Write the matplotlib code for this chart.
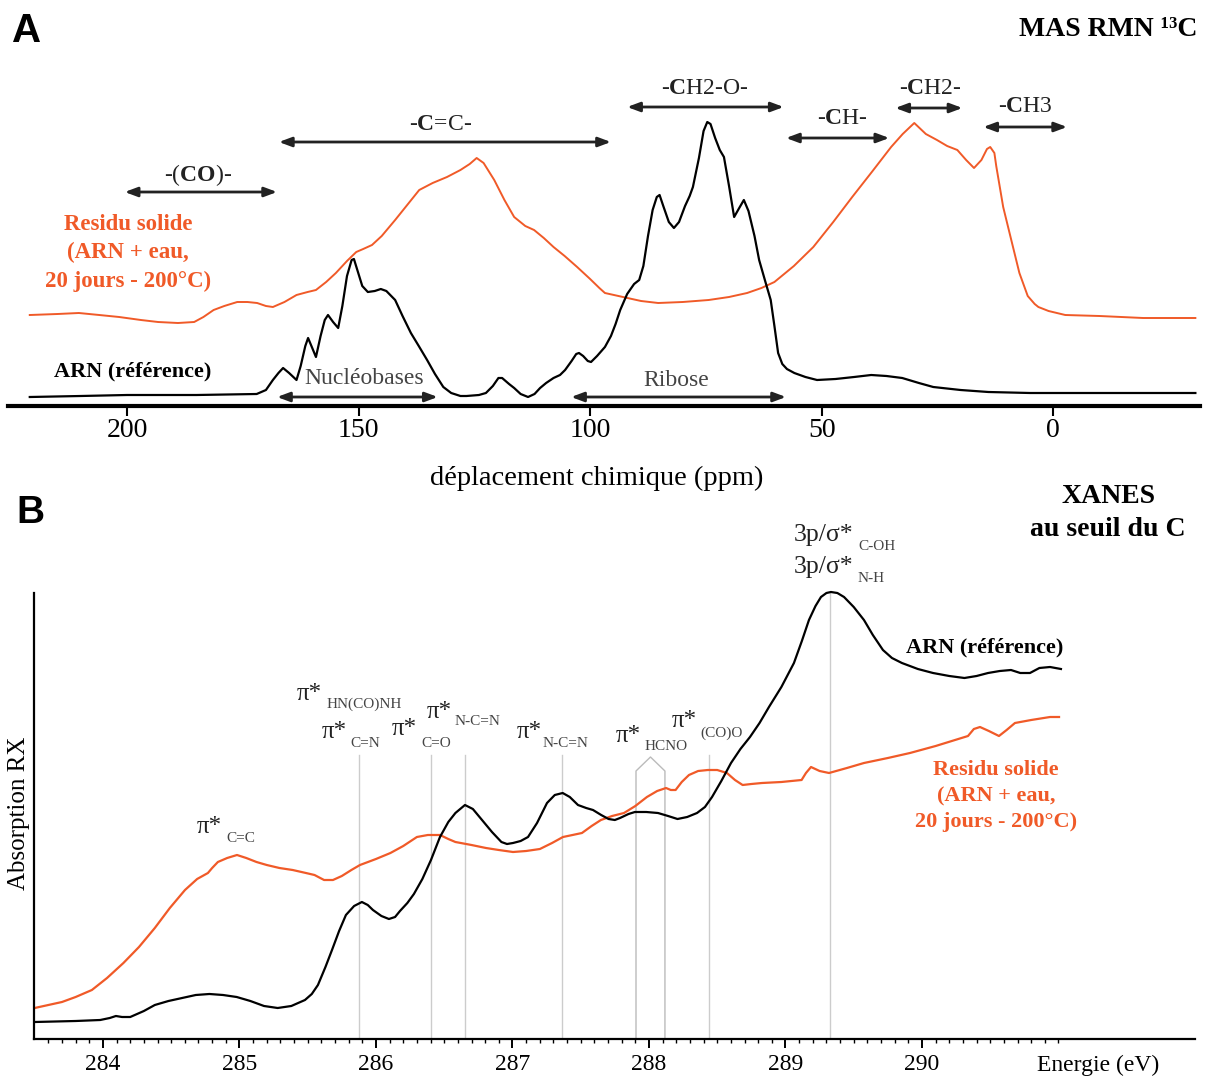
import matplotlib
matplotlib.use("Agg")
import matplotlib.pyplot as plt
from matplotlib.ticker import FixedLocator, NullLocator

plt.rcParams['font.family'] = ['Liberation Serif', 'DejaVu Serif']
plt.rcParams['mathtext.fontset'] = 'custom'
plt.rcParams['mathtext.rm'] = 'Liberation Serif'
plt.rcParams['mathtext.bf'] = 'Liberation Serif:bold'

ORANGE = '#f05a28'

# --- panel A : 13C MAS NMR -------------------------------------------------
ppm_arn = [221, 210, 200, 185, 172, 170, 168.5, 167.3, 166.3, 165,
           163.4, 162.5, 161.5, 160.9, 160, 159.2, 158.2, 157.3, 156.6, 155.5,
           154.4, 153.5, 152.5, 151.5, 151.0, 150.2, 149.2, 148.0, 146.5, 145.2,
           144.0, 142.1, 140.5, 138.7, 137, 135.2, 133.5, 131.7, 130, 128,
           126.7, 124, 122.5, 121, 119.8, 119.0, 117.5, 116.4, 115, 113.4,
           112, 110.8, 109.5, 107.9, 106.5, 105.4, 104, 103, 102.4, 101.5,
           100.5, 99.8, 98.5, 96.8, 95.5, 94.5, 93.5, 92, 90.5, 89.4,
           88.5, 87.5, 86.5, 85.6, 85.0, 84.2, 83.0, 81.9, 80.8, 79.5,
           78.5, 77.8, 76.5, 75.5, 74.7, 74.0, 73.0, 72.0, 71.1, 70,
           68.9, 67.8, 66.8, 65.8, 64.5, 63.5, 62.2, 61.0, 60.2, 59.4,
           58.5, 57.5, 55.9, 53.5, 51, 47, 43, 39.3, 36, 32.6,
           29, 25.9, 20, 14, 5, -2.6, -15, -30.7]
int_arn = [9, 10, 11, 11, 12, 16, 26, 33, 38, 33,
           26, 40, 60, 68, 58, 49, 70, 86, 91, 84,
           78, 100, 130, 146, 147, 135, 120, 114, 115, 117,
           115, 106, 90, 73, 60, 46, 32, 19, 13, 10,
           10, 11, 13, 20, 28, 28, 22, 18, 12, 9,
           12, 18, 23, 28, 31, 36, 45, 52, 53, 50,
           45, 44, 50, 59, 70, 82, 96, 112, 122, 126,
           140, 170, 196, 209, 211, 200, 184, 178, 184, 200,
           210, 219, 248, 275, 284, 282, 268, 256, 249, 220,
           189, 198, 206, 195, 170, 146, 125, 106, 80, 53,
           42, 37, 33, 29, 26, 27, 29, 31, 30, 28,
           23, 19, 16, 14, 13, 13, 13, 13]

ppm_res = [221, 215, 210.4, 206, 201.7, 197, 193.3, 189, 185.5, 183.5,
           181.3, 179, 176.2, 174, 171.9, 170, 168.5, 166, 163.4, 161,
           159.2, 157, 154.9, 152.5, 150.5, 149, 147.1, 145, 142.1, 139.5,
           136.9, 134, 130.9, 128, 126, 124.5, 123, 120.7, 118.5, 116.4,
           114, 112.1, 110, 107.9, 105.5, 102.8, 100, 98, 96.8, 92.9,
           89, 85.3, 80, 74.4, 70, 66.1, 63, 60.2, 56, 51.8,
           47.5, 43.4, 39, 35.0, 32.5, 30.0, 27.5, 25.1, 22.9, 20.7,
           18.8, 17.1, 15.5, 14.3, 13.6, 12.7, 12.3, 10.8, 9, 7.3,
           5.5, 4, 3.2, 1, -2.6, -10, -19.4, -30.7]
int_res = [91, 92, 93, 91, 89, 86, 84, 83, 84, 89,
           96, 100, 104, 104, 103, 100, 99, 104, 111, 114,
           116, 124, 133, 145, 154, 157, 161, 170, 186, 201,
           216, 223, 229, 236, 242, 248, 243, 226, 206, 189,
           180, 176, 168, 159, 150, 139, 127, 118, 113, 109,
           105, 103, 104, 106, 109, 113, 118, 124, 140, 159,
           184, 209, 235, 259, 272, 283, 272, 266, 260, 256,
           246, 238, 246, 257, 259, 253, 240, 199, 165, 133,
           110, 102, 99, 95, 91, 90, 88, 88]

ppm_ticks = [200, 150, 100, 50, 0]

# groups: (label, ppm start, ppm end, arrow level, label ppm, label level)
nmr_groups = [
    (r'-($\mathbf{CO}$)-', 200.5, 167.6, 214, 184.6, 231),
    (r'-$\mathbf{C}$=C-', 167.2, 95.5, 264, 132.4, 281),
    (r'-$\mathbf{C}$H2-O-', 92.0, 58.2, 299, 75.2, 317),
    (r'-$\mathbf{C}$H-', 57.7, 35.4, 268, 45.6, 287),
    (r'-$\mathbf{C}$H2-', 34.1, 19.6, 298, 26.6, 317),
    (r'-$\mathbf{C}$H3', 15.1, -3.0, 279, 6.0, 299),
]
arn_regions = [
    ('Nucléobases', 167.6, 132.9, 9, 148.8, 28),
    ('Ribose', 104.1, 57.7, 9, 81.4, 25),
]

# --- panel B : C K-edge XANES ----------------------------------------------
ev_arn = [283.50, 283.8, 283.98, 284.05, 284.095, 284.14, 284.2, 284.3, 284.38, 284.48,
          284.58, 284.68, 284.78, 284.88, 284.98, 285.08, 285.18, 285.28, 285.38, 285.48,
          285.53, 285.575, 285.63, 285.678, 285.73, 285.78, 285.84, 285.897, 285.94, 285.978,
          286.04, 286.095, 286.14, 286.176, 286.23, 286.278, 286.34, 286.403, 286.469, 286.53,
          286.582, 286.652, 286.71, 286.777, 286.85, 286.919, 286.96, 287.004, 287.06, 287.114,
          287.18, 287.253, 287.31, 287.368, 287.42, 287.48, 287.54, 287.59, 287.65, 287.704,
          287.75, 287.788, 287.85, 287.897, 287.98, 288.066, 288.14, 288.209, 288.28, 288.352,
          288.41, 288.462, 288.53, 288.601, 288.67, 288.74, 288.81, 288.879, 288.97, 289.062,
          289.12, 289.172, 289.22, 289.26, 289.3, 289.333, 289.38, 289.429, 289.5, 289.575,
          289.64, 289.714, 289.78, 289.853, 289.97, 290.081, 290.2, 290.311, 290.4, 290.484,
          290.57, 290.652, 290.72, 290.791, 290.86, 290.938, 291.018]
abs_arn = [17, 18, 19, 21, 23, 22, 22, 28, 34, 38,
           41, 44, 45, 44, 42, 38, 33, 31, 33, 39,
           45, 54, 72, 89, 108, 124, 133, 137, 134, 129,
           123, 120, 122, 128, 136, 145, 160, 179, 202, 217,
           226, 234, 230, 219, 207, 197, 195, 196, 198, 202,
           216, 236, 244, 246, 242, 234, 231, 229, 224, 220,
           219, 221, 225, 227, 227, 226, 223, 220, 222, 226,
           232, 242, 258, 276, 290, 302, 316, 332, 352, 376,
           398, 419, 433, 442, 446, 447, 446, 442, 432, 419,
           404, 389, 381, 376, 370, 366, 363, 361, 363, 366,
           368, 369, 366, 366, 371, 372, 370]

ev_res = [283.5, 283.6, 283.7, 283.8, 283.919, 284.03, 284.15, 284.264, 284.38, 284.49,
          284.601, 284.69, 284.769, 284.8, 284.842, 284.91, 284.982, 285.05, 285.125, 285.2,
          285.293, 285.39, 285.487, 285.55, 285.62, 285.685, 285.75, 285.82, 285.883, 286.0,
          286.106, 286.2, 286.3, 286.38, 286.469, 286.53, 286.582, 286.7, 286.806, 286.9,
          287.004, 287.1, 287.201, 287.29, 287.37, 287.44, 287.509, 287.58, 287.648, 287.73,
          287.817, 287.9, 287.985, 288.06, 288.125, 288.16, 288.195, 288.24, 288.293, 288.36,
          288.432, 288.5, 288.571, 288.63, 288.686, 288.75, 288.828, 288.97, 289.118, 289.15,
          289.187, 289.25, 289.319, 289.45, 289.575, 289.75, 289.912, 290.1, 290.337, 290.38,
          290.425, 290.49, 290.564, 290.62, 290.681, 290.8, 290.938, 291.004]
abs_res = [31, 34, 37, 42, 49, 61, 76, 92, 111, 131,
           149, 160, 166, 171, 177, 181, 184, 181, 177, 174,
           171, 169, 166, 164, 159, 159, 163, 169, 174, 180,
           186, 193, 202, 204, 204, 200, 197, 194, 191, 189,
           187, 188, 190, 196, 202, 204, 206, 213, 219, 223,
           226, 233, 242, 248, 251, 249, 249, 257, 264, 268,
           269, 269, 266, 259, 254, 255, 256, 257, 259, 266,
           272, 268, 266, 271, 276, 281, 286, 293, 303, 310,
           312, 308, 303, 309, 316, 319, 322, 322]

ev_major = [284, 285, 286, 287, 288, 289, 290]

# transitions: (main text, subscript, text pos, subscript pos)
xanes_marks = [
    ('π*', 'C=C', (284.689, 206), (284.901, 197)),
    ('π*', 'HN(CO)NH', (285.421, 339), (285.641, 331)),
    ('π*', 'C=N', (285.604, 301), (285.810, 292)),
    ('π*', 'C=O', (286.117, 304), (286.330, 292)),
    ('π*', 'N-C=N', (286.374, 321), (286.579, 314)),
    ('π*', 'N-C=N', (287.033, 301), (287.223, 292)),
    ('π*', 'HCNO', (287.758, 297), (287.971, 289)),
    ('π*', '(CO)O', (288.168, 312), (288.374, 302)),
    ('3p/σ*', 'C-OH', (289.062, 498), (289.531, 489)),
    ('3p/σ*', 'N-H', (289.062, 466), (289.531, 457)),
]
# grey guide lines: (energy, top)
guide_lines = [(285.875, 284), (286.403, 284), (286.652, 284), (287.363, 284),
               (288.440, 284), (289.326, 446)]
hcno_pair = [287.905, 288.117]


W, H = 1208, 1077


def rect(l, t, r, b):
    return [l / W, 1 - b / H, (r - l) / W, (b - t) / H]


fig = plt.figure(figsize=(W / 100, H / 100), dpi=100)


def ftext(x, y, s, **kw):
    # figure text placed from pixel position (top-left origin)
    fig.text(x / W, 1 - y / H, s, **kw)


# ---------------- A ----------------
ax1 = fig.add_axes(rect(8, 60, 1200, 406))
ax1.plot(ppm_res, int_res, color=ORANGE, lw=1.4)
ax1.plot(ppm_arn, int_arn, color='black', lw=1.6)
ax1.set_xlim(225.7, -31.7)
ax1.set_ylim(0, 346)
for s in ['top', 'left', 'right']:
    ax1.spines[s].set_visible(False)
ax1.spines['bottom'].set_linewidth(3)
ax1.xaxis.set_major_locator(FixedLocator(ppm_ticks))
ax1.yaxis.set_major_locator(NullLocator())
ax1.tick_params(axis='x', direction='out', length=7.5, width=1.5, pad=1, labelsize=20)
ax1.set_xlabel('déplacement chimique (ppm)', fontsize=20.5)
ax1.xaxis.set_label_coords((597 - 8) / 1192, -60 / 346)

arrow = dict(arrowstyle='<|-|>,head_length=0.75,head_width=0.28', color='#222222',
             lw=2, shrinkA=0, shrinkB=0)
for lab, p0, p1, lev, pl, ll in nmr_groups:
    ax1.annotate('', xy=(p1, lev), xytext=(p0, lev), arrowprops=arrow)
    ax1.text(pl, ll, lab, ha='center', va='center', fontsize=17, color='#222222')
for lab, p0, p1, lev, pl, ll in arn_regions:
    ax1.annotate('', xy=(p1, lev), xytext=(p0, lev), arrowprops=arrow)
    ax1.text(pl, ll, lab, ha='center', va='center', fontsize=17, color='#444444')

# ---------------- B ----------------
ax2 = fig.add_axes(rect(34, 593, 1195, 1039))
for e, top in guide_lines:
    ax2.plot([e, e], [0, top], color='#cccccc', lw=1)
ax2.plot([hcno_pair[0], hcno_pair[0], sum(hcno_pair) / 2, hcno_pair[1], hcno_pair[1]],
         [0, 268, 282, 268, 0], color='#bbbbbb', lw=1)
ax2.plot(ev_res, abs_res, color=ORANGE, lw=1.6)
ax2.plot(ev_arn, abs_arn, color='black', lw=1.6, clip_on=False)
ax2.set_xlim(283.495, 292.0)
ax2.set_ylim(0, 446)
for s in ['top', 'right']:
    ax2.spines[s].set_visible(False)
ax2.spines['left'].set_linewidth(1.6)
ax2.spines['bottom'].set_linewidth(1.6)
ax2.xaxis.set_major_locator(FixedLocator(ev_major))
minor = [round(283.6 + 0.1 * i, 1) for i in range(75)]
ax2.xaxis.set_minor_locator(FixedLocator([m for m in minor if m not in ev_major]))
ax2.yaxis.set_major_locator(NullLocator())
ax2.tick_params(axis='x', which='major', direction='out', length=6.5, width=1.4,
                pad=4, labelsize=17)
ax2.tick_params(axis='x', which='minor', direction='out', length=3, width=1)
ax2.annotate('Energie (eV)', xy=(291.29, 0), xycoords=ax2.get_xaxis_transform(),
             xytext=(0, -11.5), textcoords='offset points', ha='center', va='top',
             fontsize=17)

for big, sub, (x0, y0), (x1, y1) in xanes_marks:
    ax2.text(x0, y0, big, fontsize=18 if big == 'π*' else 18.5, color='#222222',
             ha='left', va='baseline')
    ax2.text(x1, y1, sub, fontsize=11, color='#444444', ha='left', va='baseline')

# figure-level texts
ftext(27, 31, 'A', fontsize=29, fontweight='bold', family='Liberation Sans',
      ha='center', va='center')
ftext(30, 513, 'B', fontsize=28, fontweight='bold', family='Liberation Sans',
      ha='center', va='center')
ftext(1108, 30, 'MAS RMN ¹³C', fontsize=20, fontweight='bold', ha='center', va='center')
ftext(1108, 513, 'XANES\nau seuil du C', fontsize=20, fontweight='bold', ha='center',
      va='center', linespacing=1.4)
ftext(128, 253, 'Residu solide\n(ARN + eau,\n20 jours - 200°C)', fontsize=16.5,
      fontweight='bold', color=ORANGE, ha='center', va='center', linespacing=1.45)
ftext(133, 371, 'ARN (référence)', fontsize=16, fontweight='bold', ha='center', va='center')
ftext(985, 647, 'ARN (référence)', fontsize=16, fontweight='bold', ha='center', va='center')
ftext(996, 796, 'Residu solide\n(ARN + eau,\n20 jours - 200°C)', fontsize=16,
      fontweight='bold', color=ORANGE, ha='center', va='center', linespacing=1.42)
ftext(19, 813, 'Absorption RX', fontsize=18, rotation=90, ha='center', va='center')

fig.savefig('out.png', dpi=100)
